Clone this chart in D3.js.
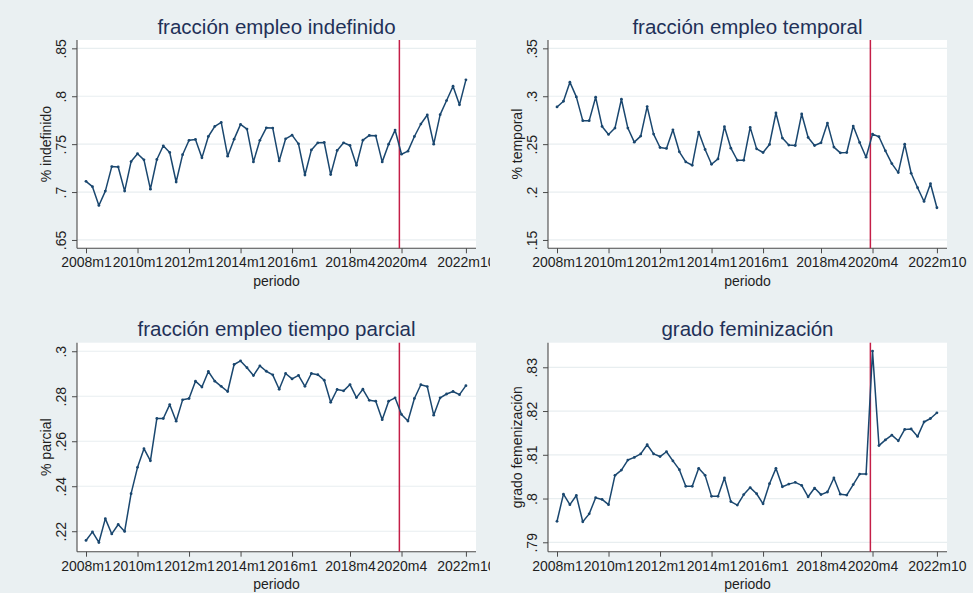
<!DOCTYPE html>
<html>
<head>
<meta charset="utf-8">
<script src="https://cdn.jsdelivr.net/npm/d3@7"></script>
<style>
  body { margin: 0; background: #eaf0f2; }
  svg { display: block; }
  text { font-family: "Liberation Sans", Arial, Helvetica, sans-serif; }
</style>
</head>
<body>
<svg id="chart" width="973" height="593"></svg>
<script>
// Quarterly observations, first month of each quarter, 2008m1 .. 2022m10
const firstPeriod = "2008m1";
const lastPeriod = "2022m10";
const xTickLabels = ["2008m1", "2010m1", "2012m1", "2014m1", "2016m1", "2018m4", "2020m4", "2022m10"];
const breakPeriod = "2020m3";
const xTitle = "periodo";

const titles = ["fracción empleo indefinido", "fracción empleo temporal",
                "fracción empleo tiempo parcial", "grado feminización"];
const yTitles = ["% indefinido", "% temporal", "% parcial", "grado femenización"];

const yTicksIndefinido = [0.65, 0.7, 0.75, 0.8, 0.85];
const yTicksTemporal = [0.15, 0.2, 0.25, 0.3, 0.35];
const yTicksParcial = [0.22, 0.24, 0.26, 0.28, 0.3];
const yTicksFeminizacion = [0.79, 0.8, 0.81, 0.82, 0.83];

const indefinido = [
  0.7112, 0.7056, 0.6860, 0.7010, 0.7266, 0.7262, 0.7010, 0.7318, 0.7400, 0.7336,
  0.7030, 0.7340, 0.7483, 0.7413, 0.7105, 0.7390, 0.7540, 0.7549, 0.7357, 0.7580,
  0.7685, 0.7727, 0.7374, 0.7552, 0.7706, 0.7657, 0.7315, 0.7540, 0.7670, 0.7668,
  0.7325, 0.7556, 0.7594, 0.7503, 0.7178, 0.7440, 0.7514, 0.7517, 0.7182, 0.7434,
  0.7514, 0.7486, 0.7280, 0.7542, 0.7591, 0.7587, 0.7315, 0.7500, 0.7647, 0.7395,
  0.7427, 0.7580, 0.7710, 0.7804, 0.7500, 0.7808, 0.7955, 0.8105, 0.7910, 0.8171
];
const temporal = [
  0.2888, 0.2948, 0.3147, 0.2993, 0.2745, 0.2745, 0.2990, 0.2685, 0.2601, 0.2668,
  0.2969, 0.2668, 0.2521, 0.2584, 0.2892, 0.2605, 0.2465, 0.2455, 0.2650, 0.2420,
  0.2315, 0.2280, 0.2626, 0.2444, 0.2290, 0.2346, 0.2682, 0.2458, 0.2332, 0.2332,
  0.2675, 0.2451, 0.2413, 0.2497, 0.2825, 0.2563, 0.2490, 0.2486, 0.2815, 0.2570,
  0.2486, 0.2514, 0.2720, 0.2469, 0.2409, 0.2413, 0.2689, 0.2517, 0.2364, 0.2605,
  0.2577, 0.2430, 0.2297, 0.2203, 0.2500, 0.2196, 0.2045, 0.1902, 0.2087, 0.1836
];
const parcial = [
  0.2159, 0.2197, 0.2150, 0.2256, 0.2188, 0.2230, 0.2199, 0.2367, 0.2484, 0.2567,
  0.2513, 0.2701, 0.2701, 0.2763, 0.2689, 0.2784, 0.2790, 0.2867, 0.2841, 0.2910,
  0.2867, 0.2844, 0.2821, 0.2941, 0.2957, 0.2927, 0.2892, 0.2935, 0.2911, 0.2895,
  0.2831, 0.2901, 0.2877, 0.2893, 0.2844, 0.2901, 0.2896, 0.2871, 0.2773, 0.2830,
  0.2824, 0.2852, 0.2794, 0.2831, 0.2782, 0.2778, 0.2696, 0.2778, 0.2793, 0.2719,
  0.2690, 0.2790, 0.2851, 0.2843, 0.2716, 0.2793, 0.2810, 0.2821, 0.2807, 0.2847
];
const feminizacion = [
  0.7948, 0.8010, 0.7986, 0.8007, 0.7947, 0.7965, 0.8002, 0.7998, 0.7986, 0.8053,
  0.8065, 0.8088, 0.8094, 0.8102, 0.8123, 0.8102, 0.8096, 0.8107, 0.8086, 0.8066,
  0.8028, 0.8028, 0.8069, 0.8053, 0.8005, 0.8005, 0.8047, 0.7993, 0.7985, 0.8009,
  0.8025, 0.8011, 0.7988, 0.8034, 0.8069, 0.8027, 0.8033, 0.8037, 0.8030, 0.8004,
  0.8024, 0.8009, 0.8015, 0.8047, 0.8010, 0.8008, 0.8032, 0.8056, 0.8056, 0.8337,
  0.8121, 0.8134, 0.8145, 0.8132, 0.8158, 0.8159, 0.8142, 0.8175, 0.8183, 0.8196
];

// "YYYYmM" -> months elapsed since 2008m1
const monthIndex = s => { const [y, m] = s.split("m"); return (+y - 2008) * 12 + (+m - 1); };
const periods = d3.range(monthIndex(firstPeriod), monthIndex(lastPeriod) + 1, 3);
// Stata-style labels without the leading zero: .85, .8, .22
const fmtY = v => String(+v.toFixed(2)).replace(/^0\./, ".");

const series = [indefinido, temporal, parcial, feminizacion];
const yTickSets = [yTicksIndefinido, yTicksTemporal, yTicksParcial, yTicksFeminizacion];

// panel geometry
const layout = [
  { left: 77,  right: 476, top: 40,    bottom: 248.3, clipX: 0,   clipW: 490, yDom: [0.6413, 0.8587] },
  { left: 548, right: 947, top: 40,    bottom: 248.3, clipX: 485, clipW: 488, yDom: [0.1413, 0.3587] },
  { left: 77,  right: 476, top: 342.7, bottom: 551.7, clipX: 0,   clipW: 490, yDom: [0.2109, 0.3038] },
  { left: 548, right: 947, top: 342.7, bottom: 551.7, clipX: 485, clipW: 488, yDom: [0.78785, 0.83562] }
];
const xDom = [-4.2, 181.7];

const svg = d3.select("#chart");
svg.append("rect").attr("width", 973).attr("height", 593).attr("fill", "#eaf0f2");
const defs = svg.append("defs");

const navy = "#1a476f", axisCol = "#4a4a4a", gridCol = "#e8eef0", textCol = "#1e1e1e";

layout.forEach((L, i) => {
  const clipId = "clip" + i;
  defs.append("clipPath").attr("id", clipId)
    .append("rect").attr("x", L.clipX).attr("y", i < 2 ? 0 : 296).attr("width", L.clipW).attr("height", 297);

  const g = svg.append("g").attr("clip-path", `url(#${clipId})`);
  const x = d3.scaleLinear().domain(xDom).range([L.left, L.right]);
  const y = d3.scaleLinear().domain(L.yDom).range([L.bottom, L.top]);

  // plot region
  g.append("rect").attr("x", L.left).attr("y", L.top)
    .attr("width", L.right - L.left).attr("height", L.bottom - L.top).attr("fill", "#ffffff");

  // gridlines
  g.append("g").selectAll("line").data(yTickSets[i]).join("line")
    .attr("x1", L.left).attr("x2", L.right)
    .attr("y1", d => y(d)).attr("y2", d => y(d))
    .attr("stroke", gridCol).attr("stroke-width", 1.2);

  // y axis, labels turned vertical
  const yAxis = g.append("g").attr("transform", `translate(${L.left},0)`)
    .call(d3.axisLeft(y).tickValues(yTickSets[i]).tickSize(5).tickFormat(fmtY));
  yAxis.select(".domain").attr("stroke", axisCol).attr("stroke-width", 1.1)
    .attr("d", `M0,${L.top}V${L.bottom}`);
  yAxis.selectAll(".tick line").attr("stroke", axisCol);
  yAxis.selectAll(".tick text")
    .attr("x", 0).attr("y", 0).attr("dy", 0)
    .attr("text-anchor", "middle")
    .attr("transform", "translate(-11,0) rotate(-90)")
    .attr("font-size", 14).attr("fill", textCol);

  // x axis
  const xAxis = g.append("g").attr("transform", `translate(0,${L.bottom})`)
    .call(d3.axisBottom(x).tickValues(xTickLabels.map(monthIndex)).tickSize(5).tickPadding(4)
      .tickFormat((d, k) => xTickLabels[k]));
  xAxis.select(".domain").attr("stroke", axisCol).attr("stroke-width", 1.1)
    .attr("d", `M${L.left},0H${L.right}`);
  xAxis.selectAll(".tick line").attr("stroke", axisCol);
  xAxis.selectAll(".tick text").attr("font-size", 14).attr("fill", textCol);

  // break marker
  g.append("line")
    .attr("x1", x(monthIndex(breakPeriod))).attr("x2", x(monthIndex(breakPeriod)))
    .attr("y1", L.top).attr("y2", L.bottom)
    .attr("stroke", "#c41e47").attr("stroke-width", 1.5);

  // series
  const pts = periods.map((p, k) => [p, series[i][k]]);
  g.append("path").datum(pts)
    .attr("fill", "none").attr("stroke", navy).attr("stroke-width", 1.5)
    .attr("stroke-linejoin", "round")
    .attr("d", d3.line().x(d => x(d[0])).y(d => y(d[1])));
  g.append("g").selectAll("circle").data(pts).join("circle")
    .attr("cx", d => x(d[0])).attr("cy", d => y(d[1])).attr("r", 1.4).attr("fill", navy);

  // titles
  g.append("text").attr("x", (L.left + L.right) / 2).attr("y", L.top - 6.5)
    .attr("text-anchor", "middle").attr("font-size", 20.5).attr("fill", "#1f3158")
    .text(titles[i]);
  g.append("text").attr("x", (L.left + L.right) / 2).attr("y", L.bottom + 37.5)
    .attr("text-anchor", "middle").attr("font-size", 14).attr("fill", textCol)
    .text(xTitle);
  const ytx = L.left - 26, yty = (L.top + L.bottom) / 2;
  g.append("text").attr("transform", `translate(${ytx},${yty}) rotate(-90)`)
    .attr("text-anchor", "middle").attr("font-size", 14).attr("fill", textCol)
    .text(yTitles[i]);
});
</script>
</body>
</html>
